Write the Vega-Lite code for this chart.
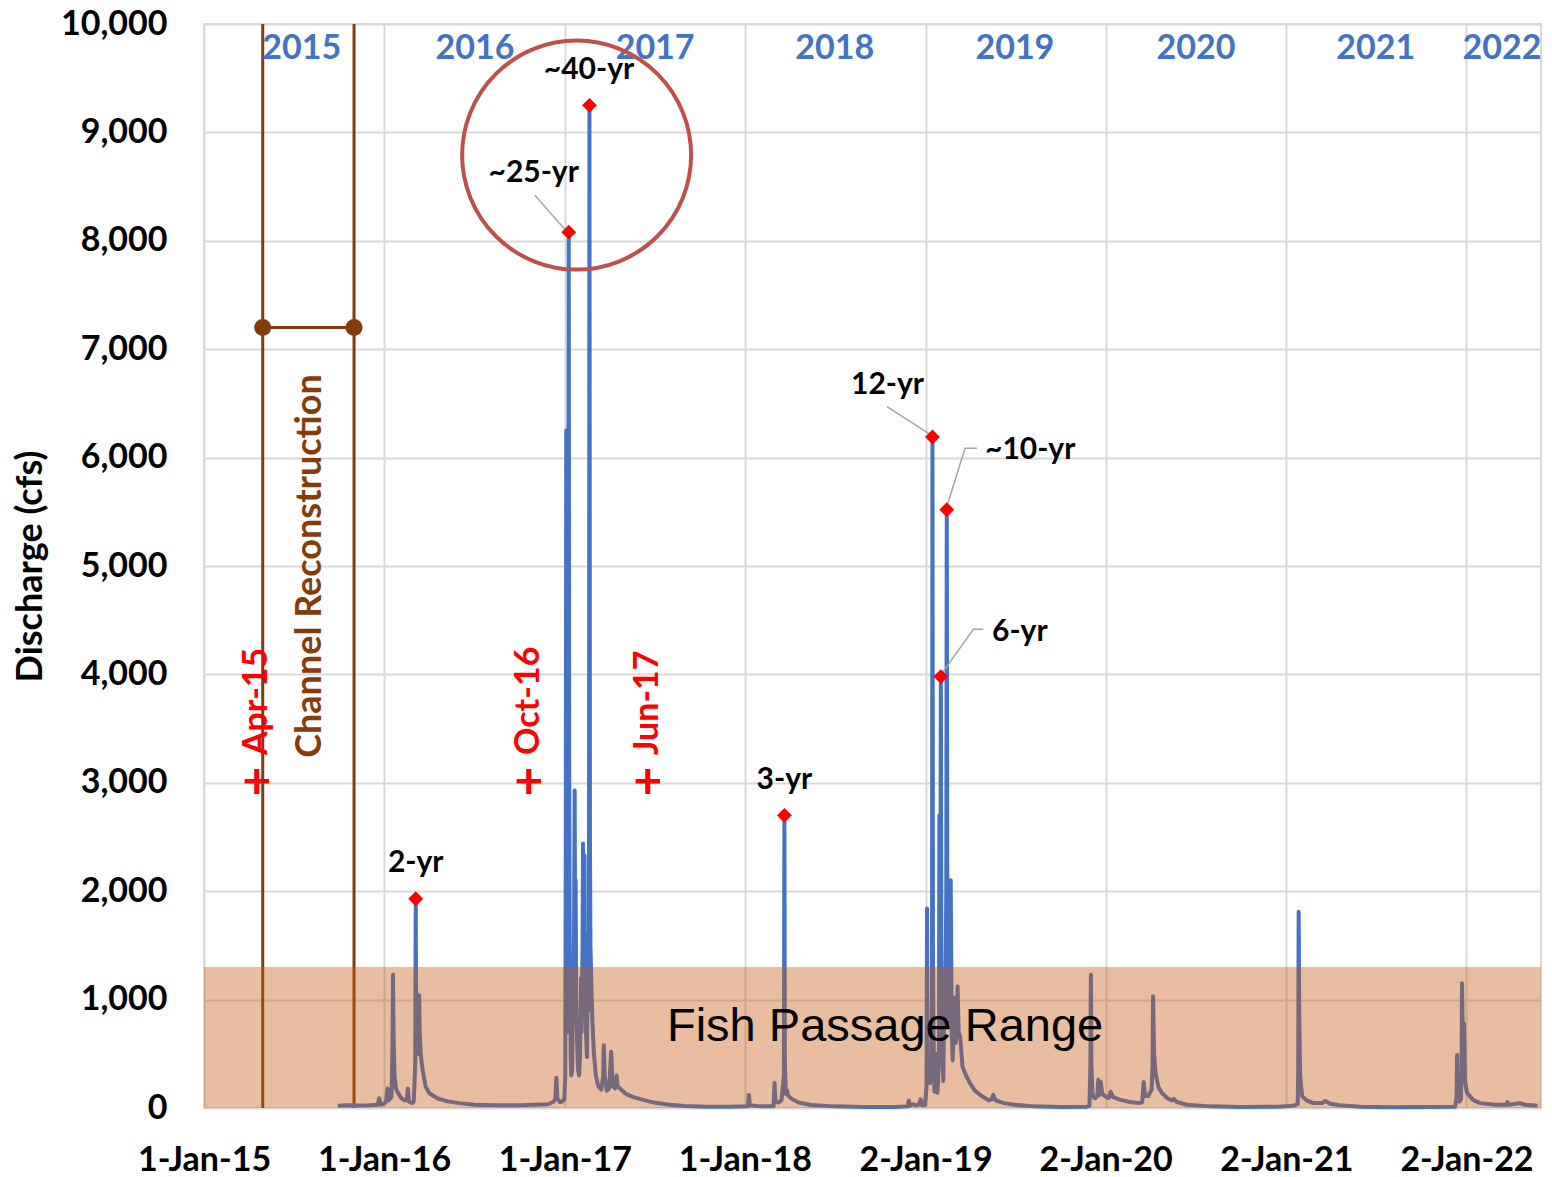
{
  "$schema": "https://vega.github.io/schema/vega-lite/v6.json",
  "width": 1337,
  "height": 1084,
  "autosize": "none",
  "padding": {"left": 204, "top": 24, "right": 11, "bottom": 69},
  "background": "white",
  "config": {"view": {"stroke": "#D9D9D9", "strokeWidth": 2}, "font": "Lato"},
  "datasets": {
    "flow": [
      {"date": "2015-09-29", "value": 20}, {"date": "2015-10-15", "value": 25}, {"date": "2015-11-10", "value": 22}, {"date": "2015-12-01", "value": 25},
      {"date": "2015-12-19", "value": 30}, {"date": "2015-12-22", "value": 90}, {"date": "2015-12-25", "value": 30}, {"date": "2016-01-01", "value": 40},
      {"date": "2016-01-05", "value": 60}, {"date": "2016-01-08", "value": 180}, {"date": "2016-01-10", "value": 70}, {"date": "2016-01-14", "value": 90},
      {"date": "2016-01-16", "value": 110}, {"date": "2016-01-18", "value": 600}, {"date": "2016-01-19", "value": 1230}, {"date": "2016-01-20", "value": 700},
      {"date": "2016-01-22", "value": 300}, {"date": "2016-01-25", "value": 180}, {"date": "2016-01-29", "value": 140}, {"date": "2016-02-05", "value": 90},
      {"date": "2016-02-12", "value": 70}, {"date": "2016-02-16", "value": 80}, {"date": "2016-02-18", "value": 180}, {"date": "2016-02-20", "value": 60},
      {"date": "2016-02-27", "value": 45}, {"date": "2016-03-01", "value": 60}, {"date": "2016-03-04", "value": 400}, {"date": "2016-03-05", "value": 1930},
      {"date": "2016-03-06", "value": 700}, {"date": "2016-03-07", "value": 1050}, {"date": "2016-03-08", "value": 600}, {"date": "2016-03-10", "value": 500},
      {"date": "2016-03-12", "value": 1040}, {"date": "2016-03-13", "value": 700}, {"date": "2016-03-15", "value": 500}, {"date": "2016-03-19", "value": 350},
      {"date": "2016-03-25", "value": 200}, {"date": "2016-04-01", "value": 140}, {"date": "2016-04-10", "value": 110}, {"date": "2016-04-20", "value": 85},
      {"date": "2016-05-05", "value": 65}, {"date": "2016-06-01", "value": 45}, {"date": "2016-07-01", "value": 30}, {"date": "2016-08-15", "value": 25},
      {"date": "2016-10-01", "value": 25}, {"date": "2016-11-01", "value": 30}, {"date": "2016-11-28", "value": 35}, {"date": "2016-12-10", "value": 60},
      {"date": "2016-12-13", "value": 90}, {"date": "2016-12-15", "value": 280}, {"date": "2016-12-17", "value": 90}, {"date": "2016-12-22", "value": 55},
      {"date": "2016-12-27", "value": 60}, {"date": "2016-12-31", "value": 80}, {"date": "2017-01-02", "value": 300}, {"date": "2017-01-03", "value": 2500},
      {"date": "2017-01-04", "value": 6250}, {"date": "2017-01-05", "value": 1500}, {"date": "2017-01-06", "value": 700}, {"date": "2017-01-07", "value": 1200},
      {"date": "2017-01-08", "value": 2500}, {"date": "2017-01-09", "value": 8080}, {"date": "2017-01-10", "value": 3000}, {"date": "2017-01-11", "value": 1600},
      {"date": "2017-01-12", "value": 1000}, {"date": "2017-01-13", "value": 500}, {"date": "2017-01-14", "value": 300}, {"date": "2017-01-16", "value": 350},
      {"date": "2017-01-18", "value": 1400}, {"date": "2017-01-19", "value": 900}, {"date": "2017-01-20", "value": 1800}, {"date": "2017-01-21", "value": 2930},
      {"date": "2017-01-22", "value": 1500}, {"date": "2017-01-23", "value": 2100}, {"date": "2017-01-24", "value": 1000}, {"date": "2017-01-26", "value": 600},
      {"date": "2017-01-28", "value": 350}, {"date": "2017-01-30", "value": 300}, {"date": "2017-02-01", "value": 500}, {"date": "2017-02-03", "value": 1200},
      {"date": "2017-02-04", "value": 700}, {"date": "2017-02-06", "value": 1500}, {"date": "2017-02-07", "value": 2440}, {"date": "2017-02-08", "value": 1300},
      {"date": "2017-02-09", "value": 1800}, {"date": "2017-02-10", "value": 2330}, {"date": "2017-02-11", "value": 1200}, {"date": "2017-02-13", "value": 700},
      {"date": "2017-02-15", "value": 470}, {"date": "2017-02-17", "value": 1600}, {"date": "2017-02-18", "value": 900}, {"date": "2017-02-19", "value": 1500},
      {"date": "2017-02-20", "value": 9250}, {"date": "2017-02-21", "value": 2500}, {"date": "2017-02-22", "value": 1500}, {"date": "2017-02-24", "value": 1100},
      {"date": "2017-02-26", "value": 800}, {"date": "2017-03-01", "value": 500}, {"date": "2017-03-05", "value": 300}, {"date": "2017-03-10", "value": 200},
      {"date": "2017-03-16", "value": 170}, {"date": "2017-03-20", "value": 300}, {"date": "2017-03-21", "value": 580}, {"date": "2017-03-23", "value": 300},
      {"date": "2017-03-27", "value": 160}, {"date": "2017-04-01", "value": 180}, {"date": "2017-04-05", "value": 520}, {"date": "2017-04-07", "value": 300},
      {"date": "2017-04-09", "value": 200}, {"date": "2017-04-13", "value": 180}, {"date": "2017-04-16", "value": 300}, {"date": "2017-04-18", "value": 200},
      {"date": "2017-04-25", "value": 170}, {"date": "2017-05-05", "value": 130}, {"date": "2017-05-20", "value": 100}, {"date": "2017-06-05", "value": 80},
      {"date": "2017-07-01", "value": 50}, {"date": "2017-08-01", "value": 30}, {"date": "2017-09-01", "value": 18}, {"date": "2017-10-15", "value": 12},
      {"date": "2017-12-01", "value": 12}, {"date": "2018-01-07", "value": 15}, {"date": "2018-01-09", "value": 120}, {"date": "2018-01-11", "value": 25},
      {"date": "2018-02-01", "value": 15}, {"date": "2018-02-28", "value": 15}, {"date": "2018-03-02", "value": 230}, {"date": "2018-03-04", "value": 60},
      {"date": "2018-03-10", "value": 50}, {"date": "2018-03-16", "value": 70}, {"date": "2018-03-21", "value": 300}, {"date": "2018-03-22", "value": 2700},
      {"date": "2018-03-23", "value": 400}, {"date": "2018-03-25", "value": 130}, {"date": "2018-03-27", "value": 165}, {"date": "2018-03-30", "value": 110},
      {"date": "2018-04-07", "value": 80}, {"date": "2018-04-20", "value": 50}, {"date": "2018-05-15", "value": 28}, {"date": "2018-07-01", "value": 15},
      {"date": "2018-09-01", "value": 10}, {"date": "2018-11-01", "value": 10}, {"date": "2018-11-27", "value": 15}, {"date": "2018-11-29", "value": 70},
      {"date": "2018-12-01", "value": 20}, {"date": "2018-12-06", "value": 35}, {"date": "2018-12-15", "value": 25}, {"date": "2018-12-20", "value": 35},
      {"date": "2018-12-23", "value": 80}, {"date": "2018-12-26", "value": 25}, {"date": "2019-01-01", "value": 30}, {"date": "2019-01-04", "value": 200},
      {"date": "2019-01-05", "value": 1840}, {"date": "2019-01-06", "value": 500}, {"date": "2019-01-08", "value": 250}, {"date": "2019-01-11", "value": 230},
      {"date": "2019-01-14", "value": 300}, {"date": "2019-01-15", "value": 1000}, {"date": "2019-01-16", "value": 6190}, {"date": "2019-01-17", "value": 1500},
      {"date": "2019-01-18", "value": 700}, {"date": "2019-01-20", "value": 150}, {"date": "2019-01-22", "value": 500}, {"date": "2019-01-24", "value": 200},
      {"date": "2019-01-26", "value": 140}, {"date": "2019-01-29", "value": 400}, {"date": "2019-01-30", "value": 2700}, {"date": "2019-01-31", "value": 900},
      {"date": "2019-02-01", "value": 1600}, {"date": "2019-02-02", "value": 3980}, {"date": "2019-02-03", "value": 1500}, {"date": "2019-02-05", "value": 600},
      {"date": "2019-02-07", "value": 250}, {"date": "2019-02-09", "value": 1200}, {"date": "2019-02-11", "value": 800}, {"date": "2019-02-13", "value": 2000},
      {"date": "2019-02-14", "value": 5520}, {"date": "2019-02-15", "value": 2200}, {"date": "2019-02-16", "value": 1300}, {"date": "2019-02-18", "value": 900},
      {"date": "2019-02-20", "value": 800}, {"date": "2019-02-22", "value": 2100}, {"date": "2019-02-24", "value": 700}, {"date": "2019-02-26", "value": 440},
      {"date": "2019-02-28", "value": 700}, {"date": "2019-03-02", "value": 1020}, {"date": "2019-03-04", "value": 600}, {"date": "2019-03-06", "value": 700},
      {"date": "2019-03-08", "value": 1120}, {"date": "2019-03-10", "value": 700}, {"date": "2019-03-13", "value": 660}, {"date": "2019-03-18", "value": 380},
      {"date": "2019-03-25", "value": 300}, {"date": "2019-04-02", "value": 230}, {"date": "2019-04-12", "value": 160}, {"date": "2019-04-23", "value": 120},
      {"date": "2019-05-10", "value": 70}, {"date": "2019-05-16", "value": 80}, {"date": "2019-05-19", "value": 120}, {"date": "2019-05-24", "value": 70},
      {"date": "2019-06-10", "value": 45}, {"date": "2019-07-01", "value": 30}, {"date": "2019-08-10", "value": 15}, {"date": "2019-10-01", "value": 10},
      {"date": "2019-11-25", "value": 12}, {"date": "2019-11-30", "value": 20}, {"date": "2019-12-02", "value": 400}, {"date": "2019-12-03", "value": 1230},
      {"date": "2019-12-04", "value": 400}, {"date": "2019-12-06", "value": 150}, {"date": "2019-12-08", "value": 100}, {"date": "2019-12-12", "value": 90},
      {"date": "2019-12-16", "value": 110}, {"date": "2019-12-18", "value": 260}, {"date": "2019-12-20", "value": 120}, {"date": "2019-12-23", "value": 240},
      {"date": "2019-12-26", "value": 130}, {"date": "2020-01-03", "value": 100}, {"date": "2020-01-08", "value": 90}, {"date": "2020-01-12", "value": 150},
      {"date": "2020-01-17", "value": 100}, {"date": "2020-02-01", "value": 75}, {"date": "2020-02-20", "value": 55}, {"date": "2020-03-10", "value": 45},
      {"date": "2020-03-16", "value": 55}, {"date": "2020-03-19", "value": 240}, {"date": "2020-03-22", "value": 110}, {"date": "2020-03-28", "value": 110},
      {"date": "2020-04-04", "value": 170}, {"date": "2020-04-06", "value": 400}, {"date": "2020-04-07", "value": 1030}, {"date": "2020-04-09", "value": 500},
      {"date": "2020-04-12", "value": 320}, {"date": "2020-04-18", "value": 190}, {"date": "2020-04-25", "value": 140}, {"date": "2020-05-06", "value": 90},
      {"date": "2020-05-15", "value": 70}, {"date": "2020-05-19", "value": 85}, {"date": "2020-05-25", "value": 55}, {"date": "2020-06-15", "value": 30},
      {"date": "2020-08-01", "value": 15}, {"date": "2020-10-01", "value": 10}, {"date": "2020-12-15", "value": 12}, {"date": "2021-01-15", "value": 20},
      {"date": "2021-01-25", "value": 35}, {"date": "2021-01-26", "value": 300}, {"date": "2021-01-27", "value": 1810}, {"date": "2021-01-28", "value": 900},
      {"date": "2021-01-30", "value": 300}, {"date": "2021-02-03", "value": 110}, {"date": "2021-02-12", "value": 70}, {"date": "2021-02-26", "value": 45},
      {"date": "2021-03-15", "value": 45}, {"date": "2021-03-22", "value": 65}, {"date": "2021-04-01", "value": 40}, {"date": "2021-04-20", "value": 25},
      {"date": "2021-06-01", "value": 12}, {"date": "2021-08-01", "value": 8}, {"date": "2021-10-15", "value": 10}, {"date": "2021-12-10", "value": 12},
      {"date": "2021-12-13", "value": 100}, {"date": "2021-12-14", "value": 490}, {"date": "2021-12-15", "value": 150}, {"date": "2021-12-19", "value": 60},
      {"date": "2021-12-22", "value": 80}, {"date": "2021-12-23", "value": 400}, {"date": "2021-12-24", "value": 1150}, {"date": "2021-12-26", "value": 500},
      {"date": "2021-12-28", "value": 780}, {"date": "2021-12-30", "value": 250}, {"date": "2022-01-03", "value": 140}, {"date": "2022-01-15", "value": 75},
      {"date": "2022-01-30", "value": 45}, {"date": "2022-03-01", "value": 30}, {"date": "2022-03-24", "value": 30}, {"date": "2022-03-26", "value": 55},
      {"date": "2022-03-29", "value": 30}, {"date": "2022-04-20", "value": 45}, {"date": "2022-05-01", "value": 30}, {"date": "2022-05-26", "value": 20}
    ],
    "peaks": [
      {"date": "2016-03-05", "value": 1930, "label": "2-yr", "ldate": "2016-03-05", "lvalue": 2260},
      {"date": "2017-01-09", "value": 8080, "label": "~25-yr", "ldate": "2016-10-30", "lvalue": 8625},
      {"date": "2017-02-20", "value": 9250, "label": "~40-yr", "ldate": "2017-02-19", "lvalue": 9576},
      {"date": "2018-03-22", "value": 2700, "label": "3-yr", "ldate": "2018-03-22", "lvalue": 3026},
      {"date": "2019-01-16", "value": 6190, "label": "12-yr", "ldate": "2018-10-17", "lvalue": 6670},
      {"date": "2019-02-14", "value": 5520, "label": "~10-yr", "ldate": "2019-08-02", "lvalue": 6070},
      {"date": "2019-02-02", "value": 3980, "label": "6-yr", "ldate": "2019-07-12", "lvalue": 4391}
    ],
    "leaders": [
      {"grp": "a", "ord": 1, "date": "2016-11-01", "value": 8422},
      {"grp": "a", "ord": 2, "date": "2017-01-04", "value": 8090},
      {"grp": "b", "ord": 1, "date": "2018-10-16", "value": 6470},
      {"grp": "b", "ord": 2, "date": "2019-01-08", "value": 6224},
      {"grp": "c", "ord": 1, "date": "2019-02-14", "value": 5547},
      {"grp": "c", "ord": 2, "date": "2019-03-23", "value": 6086},
      {"grp": "c", "ord": 3, "date": "2019-04-16", "value": 6086},
      {"grp": "d", "ord": 1, "date": "2019-02-04", "value": 4010},
      {"grp": "d", "ord": 2, "date": "2019-04-09", "value": 4416},
      {"grp": "d", "ord": 3, "date": "2019-04-29", "value": 4416}
    ],
    "years": [
      {"date": "2015-07-18", "value": 9770, "label": "2015"},
      {"date": "2016-07-03", "value": 9770, "label": "2016"},
      {"date": "2017-07-03", "value": 9770, "label": "2017"},
      {"date": "2018-07-02", "value": 9770, "label": "2018"},
      {"date": "2019-07-02", "value": 9770, "label": "2019"},
      {"date": "2020-07-03", "value": 9770, "label": "2020"},
      {"date": "2021-07-02", "value": 9770, "label": "2021"},
      {"date": "2022-03-15", "value": 9770, "label": "2022"}
    ],
    "events": [
      {"date": "2015-04-18", "value": 3256, "plus": 3000, "label": "Apr-15"},
      {"date": "2016-10-20", "value": 3256, "plus": 3000, "label": "Oct-16"},
      {"date": "2017-06-18", "value": 3256, "plus": 3000, "label": "Jun-17"}
    ],
    "reconRules": [
      {"date": "2015-04-30", "value": 0, "value2": 10000},
      {"date": "2015-11-01", "value": 0, "value2": 10000}
    ],
    "reconBar": [
      {"date": "2015-04-30", "value": 7200},
      {"date": "2015-11-01", "value": 7200}
    ],
    "reconLabel": [{"date": "2015-08-03", "value": 5000, "label": "Channel Reconstruction"}],
    "fish": [{"date": "2015-01-01", "date2": "2022-06-02", "value": 0, "value2": 1300}],
    "fishLabel": [{"date": "2018-10-12", "value": 747, "label": "Fish Passage Range"}],
    "circle": [{"date": "2017-01-25", "value": 8791}]
  },
  "encoding": {
    "x": {
      "field": "date", "type": "temporal",
      "scale": {"type": "utc", "domain": [{"year": 2015, "month": 1, "date": 1, "utc": true}, {"year": 2022, "month": 6, "date": 2, "utc": true}]},
      "axis": {
        "values": [
          {"year": 2015, "month": 1, "date": 1, "utc": true}, {"year": 2016, "month": 1, "date": 1, "utc": true},
          {"year": 2017, "month": 1, "date": 1, "utc": true}, {"year": 2018, "month": 1, "date": 1, "utc": true},
          {"year": 2019, "month": 1, "date": 2, "utc": true}, {"year": 2020, "month": 1, "date": 2, "utc": true},
          {"year": 2021, "month": 1, "date": 2, "utc": true}, {"year": 2022, "month": 1, "date": 2, "utc": true}
        ],
        "format": "%-d-%b-%y", "title": null, "ticks": false, "domain": false,
        "grid": true, "gridColor": "#D9D9D9", "gridWidth": 2,
        "labelFont": "Lato", "labelFontSize": 34, "labelFontWeight": "bold", "labelColor": "#000000",
        "labelPadding": 35, "labelFlush": false, "labelOverlap": false
      }
    },
    "y": {
      "field": "value", "type": "quantitative",
      "scale": {"domain": [0, 10000], "nice": false},
      "axis": {
        "values": [0, 1000, 2000, 3000, 4000, 5000, 6000, 7000, 8000, 9000, 10000],
        "format": ",d", "ticks": false, "domain": false,
        "grid": true, "gridColor": "#D9D9D9", "gridWidth": 2,
        "labelFont": "Lato", "labelFontSize": 34, "labelFontWeight": "bold", "labelColor": "#000000",
        "labelPadding": 37, "labelFlush": false,
        "title": "Discharge (cfs)", "titleFont": "Lato", "titleFontSize": 36, "titleFontWeight": "bold", "titleColor": "#000000",
        "titleX": -174, "titleY": 542, "titleAngle": 270, "titleAlign": "center", "titleBaseline": "middle"
      }
    }
  },
  "layer": [
    {
      "data": {"name": "reconRules"},
      "mark": {"type": "rule", "color": "#843C0C", "strokeWidth": 3},
      "encoding": {"y2": {"field": "value2"}}
    },
    {
      "data": {"name": "flow"},
      "mark": {"type": "line", "color": "#4472C4", "strokeWidth": 4, "strokeJoin": "round"}
    },
    {
      "data": {"name": "fish"},
      "mark": {"type": "rect", "color": "#C55A11", "fillOpacity": 0.4, "opacity": 1},
      "encoding": {"x2": {"field": "date2"}, "y2": {"field": "value2"}}
    },
    {
      "data": {"name": "fishLabel"},
      "mark": {"type": "text", "font": "Liberation Sans", "fontSize": 47, "color": "#000000", "align": "center", "baseline": "middle"},
      "encoding": {"text": {"field": "label"}}
    },
    {
      "data": {"name": "reconBar"},
      "mark": {"type": "line", "color": "#843C0C", "strokeWidth": 3}
    },
    {
      "data": {"name": "reconBar"},
      "mark": {"type": "point", "shape": "circle", "filled": true, "color": "#843C0C", "size": 290, "opacity": 1}
    },
    {
      "data": {"name": "reconLabel"},
      "mark": {"type": "text", "font": "Lato", "fontSize": 36, "fontWeight": "bold", "color": "#843C0C", "angle": 270, "align": "center", "baseline": "middle"},
      "encoding": {"text": {"field": "label"}}
    },
    {
      "data": {"name": "events"},
      "mark": {"type": "text", "font": "Lato", "fontSize": 34, "fontWeight": "bold", "color": "#FF0000", "angle": 270, "align": "left", "baseline": "middle"},
      "encoding": {"text": {"field": "label"}}
    },
    {
      "data": {"name": "events"},
      "mark": {"type": "text", "text": "+", "font": "Lato", "fontSize": 50, "fontWeight": "bold", "color": "#FF0000", "align": "center", "baseline": "middle"},
      "encoding": {"y": {"field": "plus", "type": "quantitative"}}
    },
    {
      "data": {"name": "years"},
      "mark": {"type": "text", "font": "Lato", "fontSize": 34, "fontWeight": "bold", "color": "#4472C4", "align": "center", "baseline": "middle"},
      "encoding": {"text": {"field": "label"}}
    },
    {
      "data": {"name": "circle"},
      "mark": {"type": "point", "shape": "circle", "filled": false, "stroke": "#C0504D", "strokeWidth": 4, "size": 52441, "opacity": 1}
    },
    {
      "data": {"name": "leaders"},
      "mark": {"type": "line", "color": "#A6A6A6", "strokeWidth": 1.5},
      "encoding": {"detail": {"field": "grp"}, "order": {"field": "ord"}}
    },
    {
      "data": {"name": "peaks"},
      "mark": {"type": "point", "shape": "diamond", "filled": true, "color": "#FF0000", "size": 220, "opacity": 1}
    },
    {
      "data": {"name": "peaks"},
      "mark": {"type": "text", "font": "Lato", "fontSize": 30, "fontWeight": "bold", "color": "#000000", "align": "center", "baseline": "middle"},
      "encoding": {
        "x": {"field": "ldate", "type": "temporal"},
        "y": {"field": "lvalue", "type": "quantitative"},
        "text": {"field": "label"}
      }
    }
  ]
}
